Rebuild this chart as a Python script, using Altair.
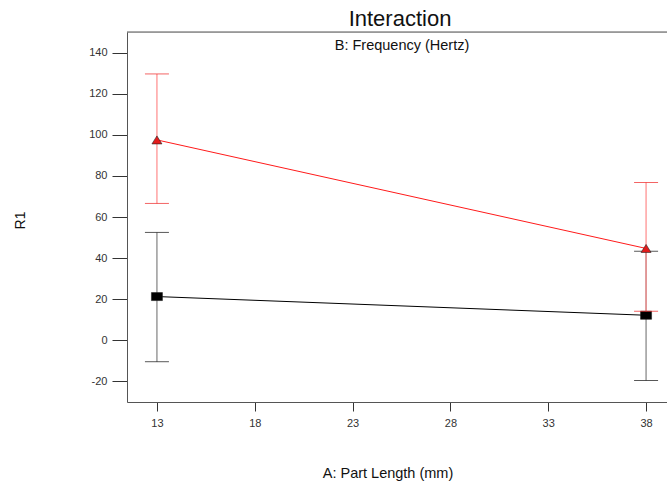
import altair as alt
import pandas as pd

# ---- data ----
part_length = [13, 38]
series_names = ["B- (low)", "B+ (high)"]
low_mean = [21.3, 12.2]
low_lo = [-10.4, -19.5]
low_hi = [52.5, 43.3]
high_mean = [97.5, 44.7]
high_lo = [66.6, 14.1]
high_hi = [129.6, 76.8]

x_ticks = [13, 18, 23, 28, 33, 38]
y_ticks = [-20, 0, 20, 40, 60, 80, 100, 120, 140]

chart_title = "Interaction"
chart_subtitle = "B: Frequency (Hertz)"

FONT = "Liberation Sans"

def frame(mean, lo, hi):
    return pd.DataFrame({"A": part_length, "R1": mean, "lo": lo, "hi": hi})

df_low = frame(low_mean, low_lo, low_hi)
df_high = frame(high_mean, high_lo, high_hi)

xs = alt.Scale(domain=[11.47, 39.07], nice=False, zero=False)
ys = alt.Scale(domain=[-30, 150], nice=False, zero=False)

x_axis = alt.Axis(values=x_ticks, title="A: Part Length (mm)", grid=False,
                  tickSize=9, labelPadding=6, labelFontSize=11, labelFont=FONT,
                  labelColor="#333333", tickColor="#333333", domainColor="#555555",
                  labelExpr="datum.value + ''",
                  titleFont=FONT, titleFontSize=14.5, titleFontWeight="normal",
                  titleColor="#111111", titleX=260.5, titleY=75,
                  titleBaseline="alphabetic")
y_axis = alt.Axis(values=y_ticks, title="R1", grid=False,
                  tickSize=15, labelPadding=5, labelFontSize=11, labelFont=FONT,
                  labelColor="#333333", tickColor="#333333", domainColor="#555555",
                  labelExpr="datum.value + ''",
                  titleFont=FONT, titleFontSize=14, titleFontWeight="normal",
                  titleColor="#111111", titleX=-107, titleY=188,
                  titleBaseline="middle", titleAlign="center")

X = alt.X("A:Q", scale=xs, axis=x_axis)
Y = alt.Y("R1:Q", scale=ys, axis=y_axis)

square = "M-1,-0.73L1,-0.73L1,0.73L-1,0.73Z"
triangle = "M0,-0.8L1,0.8L-1,0.8Z"

def series_layers(df, line_col, err_col, cap_col, fill, shape, size):
    base = alt.Chart(df)
    line = base.mark_line(color=line_col, strokeWidth=1).encode(x=X, y=Y)
    err = base.mark_rule(color=err_col, strokeWidth=1.2).encode(
        x=alt.X("A:Q", scale=xs), y=alt.Y("lo:Q", scale=ys), y2="hi:Q")
    cap_lo = base.mark_tick(color=cap_col, orient="horizontal", size=24, thickness=1).encode(
        x=alt.X("A:Q", scale=xs), y=alt.Y("lo:Q", scale=ys))
    cap_hi = base.mark_tick(color=cap_col, orient="horizontal", size=24, thickness=1).encode(
        x=alt.X("A:Q", scale=xs), y=alt.Y("hi:Q", scale=ys))
    pts = base.mark_point(shape=shape, size=size, filled=True, fill=fill,
                          stroke="#222222", strokeWidth=0.6, opacity=1).encode(x=X, y=Y)
    return [err, cap_lo, cap_hi, line, pts]

layers = []
layers += series_layers(df_low, "#000000", "#808080", "#111111", "#000000", square, 121)
layers += series_layers(df_high, "#ff1a1a", "#ff8a8a", "#ee2222", "#e41b1b", triangle, 100)

top_line = alt.Chart(pd.DataFrame({"d": [0]})).mark_rule(color="#555555", strokeWidth=1).encode(
    x=alt.value(0), x2=alt.value(540), y=alt.value(0))
subtitle = alt.Chart(pd.DataFrame({"t": [chart_subtitle]})).mark_text(
    font=FONT, fontSize=14.5, color="#111111", align="center", baseline="alphabetic").encode(
    text="t:N", x=alt.value(275), y=alt.value(18))
title = alt.Chart(pd.DataFrame({"t": [chart_title]})).mark_text(
    font=FONT, fontSize=22, color="#111111", align="center", baseline="alphabetic").encode(
    text="t:N", x=alt.value(273), y=alt.value(-6))

chart = alt.layer(top_line, subtitle, title, *layers).properties(
    width=540, height=370,
    autosize=alt.AutoSizeParams(type="none"),
    padding={"left": 127, "top": 32, "right": 0, "bottom": 81},
).configure_view(stroke=None).configure(background="white")

chart.save("out.html", embed_options={"renderer": "svg", "actions": False})
